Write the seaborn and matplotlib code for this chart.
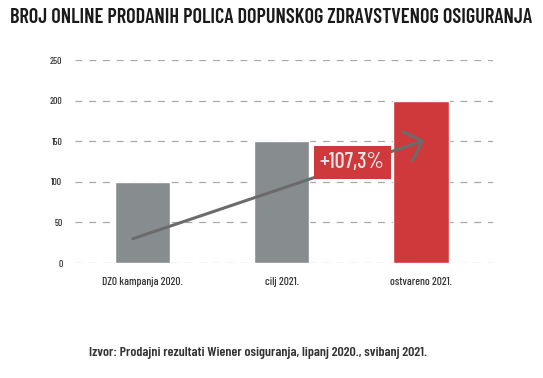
import matplotlib
matplotlib.use("Agg")
import matplotlib.pyplot as plt
import seaborn as sns
import pandas as pd

# Data
categories = ["DZO kampanja 2020.", "cilj 2021.", "ostvareno 2021."]
values = [100, 150, 200]
bar_colors = ["#878c8f", "#878c8f", "#d0393b"]
y_ticks = [0, 50, 100, 150, 200, 250]
growth_label = "+107,3%"

sns.set_style("white")
plt.rcParams["font.family"] = ["Barlow Condensed", "DejaVu Sans"]

df = pd.DataFrame({"kategorija": categories, "broj": values})

fig = plt.figure(figsize=(5.43, 3.78), dpi=100)
ax = fig.add_axes([0.138, 0.304, 0.770, 0.537])

sns.barplot(data=df, x="kategorija", y="broj", hue="kategorija",
            palette=bar_colors, width=0.40, legend=False, saturation=1, ax=ax, zorder=2)

ax.set_ylim(0, 250)
ax.set_xlim(-0.486, 2.52)
ax.set_yticks(y_ticks)
ax.yaxis.grid(True, color="#a8a8a8", linestyle=(0, (5.5, 5.5)), linewidth=0.9, zorder=0)
ax.set_axisbelow(True)
for s in ax.spines.values():
    s.set_visible(False)
ax.tick_params(axis="y", length=0, pad=9, labelsize=7, labelcolor="#333333")
ax.tick_params(axis="x", length=0, pad=10, labelsize=8.2, labelcolor="#333333")
for lbl in ax.get_xticklabels() + ax.get_yticklabels():
    lbl.set_fontweight("medium")
ax.set_xlabel("")
ax.set_ylabel("")

# growth arrow
ax.annotate("", xy=(2.025, 151), xytext=(-0.07, 30),
            arrowprops=dict(arrowstyle="->, head_length=1.1, head_width=1.1",
                            color="#6b6b6b", lw=2.2, mutation_scale=10,
                            shrinkA=0, shrinkB=0),
            zorder=4)
ax.text(1.507, 124, growth_label, ha="center", va="center", fontsize=16,
        fontweight="medium", color="#e6e6e6", zorder=5,
        bbox=dict(boxstyle="square,pad=0.28", fc="#d0393b", ec="none"))

fig.text(0.5, 0.955, "BROJ ONLINE PRODANIH POLICA DOPUNSKOG ZDRAVSTVENOG OSIGURANJA",
         ha="center", va="center", fontsize=14.6, fontweight="semibold", color="#1a1a1a")
fig.text(0.475, 0.066, "Izvor: Prodajni rezultati Wiener osiguranja, lipanj 2020., svibanj 2021.",
         ha="center", va="center", fontsize=10, fontweight="semibold", color="#333333")

fig.savefig("out.png", dpi=100)
